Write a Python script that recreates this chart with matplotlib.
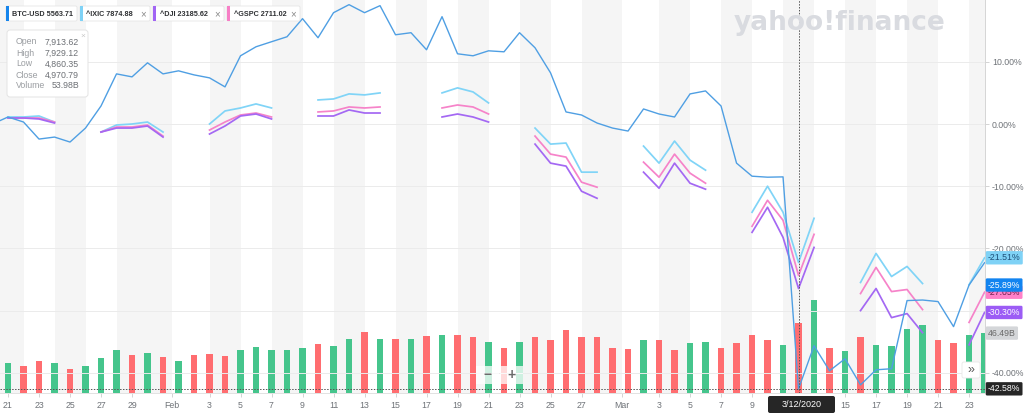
import matplotlib
matplotlib.use("Agg")
import matplotlib.pyplot as plt
import matplotlib.transforms as mtransforms
from matplotlib.patches import Rectangle, FancyBboxPatch
import numpy as np
import pandas as pd

plt.rcParams["font.family"] = ["Liberation Sans", "DejaVu Sans"]

# ---- data (percent change vs. first point, one value per calendar day) ----
dates = pd.date_range("2020-01-20", "2020-03-24", freq="D")

btc_pct = [
    0.0, 1.13, 0.32, -2.42, -2.10, -2.90, -0.65, 2.90, 8.06, 7.58, 9.84, 8.06,  # Jan 20-31
    8.55, 7.90, 7.42, 5.97, 10.97, 12.42, 13.23, 14.03, 16.94, 13.87, 17.90,
    19.19, 17.90, 19.03, 14.35, 14.68, 11.94, 17.26, 11.29, 10.97, 11.77,
    11.61, 14.68, 12.26, 8.23, 1.94, 1.45, 0.16, -0.65,  # Feb 1-29
    -1.13, 2.42, 1.61, 1.13, 4.84, 5.32, 2.90, -6.29, -8.39, -8.55, -8.50,
    -42.58, -35.65, -39.68, -37.74, -41.94, -39.52, -39.35, -28.39, -28.30,
    -28.55, -32.58, -25.89, -22.30,  # Mar 1-24
]

# BTC volume, billions of USD
btc_volume = [
    20.7, 23.2, 21.3, 24.7, 23.2, 18.5, 21.3, 27.3, 33.3, 29.6, 31.2, 28.1,
    24.7, 29.4, 30.2, 28.6, 33.5, 35.9, 33.3, 33.5, 34.6, 38.0, 36.1, 41.6,
    47.3, 41.6, 42.1, 41.6, 44.5, 45.2, 45.2, 43.1, 39.2, 34.9, 39.8, 43.7,
    41.1, 49.1, 43.7, 43.1, 35.1,
    34.3, 41.3, 41.1, 33.3, 38.5, 39.5, 35.1, 38.5, 45.2, 41.1, 36.9, 53.98,
    71.8, 35.1, 32.8, 43.7, 36.9, 36.7, 49.4, 52.8, 41.1, 39.0, 45.2, 46.49,
]

N = None  # market closed
ixic_pct = [
    N, 1.13, 1.13, 1.29, 0.32, N, N, -1.29, -0.16, 0.0, 0.32, -1.29,
    N, N, 0.0, 2.10, 2.58, 3.23, 2.58, N, N, 3.87, 4.03, 4.84, 4.68, 5.00,
    N, N, N, 5.00, 5.81, 5.16, 3.39, N, N, -0.65, -3.23, -3.06, -7.74, -7.74, N,
    N, -3.55, -6.29, -2.74, -5.81, -7.42, N, N, -14.19, -10.0, -14.19, -22.26,
    -15.16, N, N, -25.48, -20.81, -24.52, -22.90, -25.65, N, N, -25.85, -21.51,
]
gspc_pct = [
    N, 0.97, 0.97, 0.97, 0.32, N, N, -1.29, -0.48, -0.48, -0.16, -1.94,
    N, N, -0.97, 0.32, 1.45, 1.77, 1.13, N, N, 1.94, 2.10, 2.74, 2.58, 2.74,
    N, N, N, 2.58, 3.06, 2.74, 1.61, N, N, -1.94, -4.84, -5.32, -9.35, -10.16, N,
    N, -6.13, -8.55, -4.84, -7.90, -9.52, N, N, -16.45, -12.26, -15.48, -24.35,
    -17.74, N, N, -27.26, -23.06, -26.94, -26.61, -29.84, N, N, -31.90, -27.05,
]
dji_pct = [
    N, 0.97, 0.97, 0.81, 0.16, N, N, -1.29, -0.65, -0.65, -0.32, -2.10,
    N, N, -1.61, -0.32, 1.29, 1.61, 0.81, N, N, 1.29, 1.29, 2.26, 1.77, 1.77,
    N, N, N, 1.13, 1.61, 1.13, 0.32, N, N, -3.23, -6.29, -6.77, -10.81, -11.94, N,
    N, -7.74, -10.32, -6.29, -9.52, -10.48, N, N, -17.42, -13.39, -18.23, -26.45,
    -19.84, N, N, -30.00, -26.45, -31.13, -30.48, -33.55, N, N, -35.50, -30.30,
]

symbols = ["BTC-USD", "^IXIC", "^DJI", "^GSPC"]
symbol_prices = ["5563.71", "7874.88", "23185.62", "2711.02"]
last_pct = [-25.89, -21.51, -30.30, -27.05]
last_volume = 46.49

cursor_date = "2020-03-12"
cursor_pct = -42.58
info_names = ["Open", "High", "Low", "Close", "Volume"]
info_values = ["7,913.62", "7,929.12", "4,860.35", "4,970.79", "53.98B"]

# ---- style ----
line_colors = {"BTC-USD": "#4f9fe3", "^IXIC": "#80d4f7", "^DJI": "#a468f3", "^GSPC": "#f683c9"}
chip_colors = {"BTC-USD": "#1584ec", "^IXIC": "#7fd2f6", "^DJI": "#a165f4", "^GSPC": "#f77fc6"}
tag_style = {
    "BTC-USD": ("#1284f0", "white"),
    "^IXIC": ("#7fd2f6", "#1d4f78"),
    "^DJI": ("#9c5cf5", "white"),
    "^GSPC": ("#ff80c8", "#6a1f4a"),
}
up_color, down_color = "#45c58c", "#ff6d70"
stripe_color = "#f5f5f5"
grid_color = "#ebebeb"
text_gray = "#6f7378"

stripes = [
    ("2020-01-19", "2020-01-22"), ("2020-01-24", "2020-01-26"),
    ("2020-01-28", "2020-01-31 14:00"), ("2020-02-03", "2020-02-05"),
    ("2020-02-07", "2020-02-09"), ("2020-02-11", "2020-02-13"),
    ("2020-02-15", "2020-02-17"), ("2020-02-19", "2020-02-21"),
    ("2020-02-23", "2020-02-25"), ("2020-02-27", "2020-02-29 14:00"),
    ("2020-03-03", "2020-03-05"), ("2020-03-07", "2020-03-09"),
    ("2020-03-11", "2020-03-13"), ("2020-03-15", "2020-03-17"),
    ("2020-03-19", "2020-03-21"), ("2020-03-23", "2020-03-26"),
]

W, H = 1024, 416
fig = plt.figure(figsize=(W / 100, H / 100), dpi=100)
fig.patch.set_facecolor("white")
rect = [0, 23 / H, 985 / W, 393 / H]

x_left = pd.Timestamp("2020-01-21") - pd.Timedelta(hours=12.4)
x_right = pd.Timestamp("2020-03-24") + pd.Timedelta(hours=0.7)

# volume axes underneath
ax_vol = fig.add_axes(rect, zorder=0)
ax_vol.set_facecolor("white")
for start, end in stripes:
    ax_vol.axvspan(pd.Timestamp(start), pd.Timestamp(end), color=stripe_color, lw=0, zorder=0)
vol_colors = [up_color if i > 0 and btc_pct[i] >= btc_pct[i - 1] else down_color
              for i in range(len(btc_pct))]
ax_vol.bar(dates, btc_volume, width=0.42, color=vol_colors, zorder=2)
ax_vol.set_ylim(0, 305)
ax_vol.set_xlim(x_left, x_right)
ax_vol.axis("off")

# price axes on top
ax = fig.add_axes(rect, zorder=1)
ax.patch.set_alpha(0)
ax.set_xlim(x_left, x_right)
ax.set_ylim(-43.25, 19.94)

grid_levels = [10, 0, -10, -20, -30, -40]
for y in grid_levels:
    ax.axhline(y, color=grid_color, lw=0.7, zorder=0)

series = {"^IXIC": ixic_pct, "^GSPC": gspc_pct, "^DJI": dji_pct}
for name, vals in series.items():
    ax.plot(dates, np.array(vals, dtype=float), color=line_colors[name], lw=1.25, zorder=3)
ax.plot(dates, btc_pct, color=line_colors["BTC-USD"], lw=1.0, zorder=4)

# crosshair
cursor = pd.Timestamp(cursor_date)
ax.axvline(cursor, color="#555555", lw=0.7, ls=(0, (1.5, 1.5)), zorder=5)
ax.axhline(cursor_pct, color="#555555", lw=0.7, ls=(0, (1.5, 1.5)), zorder=5)

# axes decoration (the -30% label sits under the ^DJI tag, so it is left blank)
ax.yaxis.tick_right()
ax.set_yticks(grid_levels)
ax.set_yticklabels(["" if v == -30 else f"{v:.2f}%" for v in grid_levels])
ax.tick_params(axis="y", length=3, width=0.6, color="#cccccc", pad=2,
               labelsize=6.3, labelcolor=text_gray)

tick_pos, tick_lab = [], []
for d in dates:
    if abs((d - cursor).days) == 1:
        continue  # hidden behind the date tag
    if d.day == 1:
        tick_pos.append(d - pd.Timedelta(hours=10))
        tick_lab.append(d.strftime("%b"))
    elif d.day % 2 == 1 and (d + pd.Timedelta(days=2)).month == d.month and d > dates[0]:
        tick_pos.append(d)
        tick_lab.append(str(d.day))
ax.set_xticks(tick_pos)
ax.set_xticklabels(tick_lab)
ax.tick_params(axis="x", length=3, width=0.6, color="#cccccc", pad=3,
               labelsize=6.3, labelcolor=text_gray)
for side in ["top", "left"]:
    ax.spines[side].set_visible(False)
ax.spines["right"].set_color("#d5d5d5")
ax.spines["bottom"].set_color("#e2e2e2")
ax.spines["right"].set_linewidth(0.7)
ax.spines["bottom"].set_linewidth(0.7)

# value tags on the right edge
tag_tr = mtransforms.blended_transform_factory(ax.transAxes, ax.transData)
order = [("^GSPC", 3), ("BTC-USD", 0), ("^IXIC", 1), ("^DJI", 2)]
for name, i in order:
    bg, fg = tag_style[name]
    ax.text(1.003, last_pct[i], f"{last_pct[i]:.2f}%", transform=tag_tr, fontsize=6.3,
            color=fg, va="center", ha="left", clip_on=False, zorder=10,
            bbox=dict(boxstyle="round,pad=0.25,rounding_size=0.15", fc=bg, ec="none"))
ax.text(1.003, cursor_pct, f"{cursor_pct:.2f}%", transform=tag_tr, fontsize=6.3,
        color="white", va="center", ha="left", clip_on=False, zorder=10,
        bbox=dict(boxstyle="round,pad=0.25,rounding_size=0.15", fc="#262626", ec="none"))
vol_tr = mtransforms.blended_transform_factory(ax_vol.transAxes, ax_vol.transData)
ax_vol.text(1.003, last_volume, f"{last_volume:.2f}B", transform=vol_tr, fontsize=6.3,
            color="#6a6a6a", va="center", ha="left", clip_on=False, zorder=10,
            bbox=dict(boxstyle="round,pad=0.25,rounding_size=0.15", fc="#d4d6d9", ec="none"))

# ---- overlay in pixel coordinates: chips, info box, watermark, buttons ----
ov = fig.add_axes([0, 0, 1, 1], zorder=10)
ov.set_xlim(0, W)
ov.set_ylim(H, 0)
ov.axis("off")
ov.patch.set_alpha(0)

ov.text(840, 23, "yahoo!finance", fontsize=19, fontweight="bold", color="#d9dbe0",
        ha="center", va="center", family="DejaVu Sans")

chip_x = [(6, 77), (80, 150), (153, 224), (227, 300)]
for (x0, x1), name, price in zip(chip_x, symbols, symbol_prices):
    ov.add_patch(FancyBboxPatch((x0, 6), x1 - x0, 15, boxstyle="round,pad=0,rounding_size=1.5",
                                fc="white", ec="#e6e6e6", lw=0.6))
    ov.add_patch(Rectangle((x0, 6), 2.5, 15, fc=chip_colors[name], ec="none"))
    ov.text(x0 + 6.5, 14, f"{name} {price}", fontsize=5.2, fontweight="bold",
            color="#2f3134", va="center", ha="left")
    if name != "BTC-USD":
        ov.text(x1 - 6.5, 14, "\u00d7", fontsize=7, color="#8a8a8a", va="center", ha="center")

ov.add_patch(FancyBboxPatch((7, 30), 81, 67, boxstyle="round,pad=0,rounding_size=3",
                            fc="white", ec="#e3e3e3", lw=0.7))
ov.text(83, 36, "\u00d7", fontsize=6, color="#c8c8c8", ha="center", va="center")
for k, (nm, val) in enumerate(zip(info_names, info_values)):
    yy = 42 + 11 * k
    ov.text(16, yy, nm, fontsize=6.3, color="#9a9da1", va="center", ha="left")
    ov.text(79, yy, val, fontsize=6.3, color="#6d7075", va="center", ha="right")

# zoom buttons and scroll button
ov.add_patch(Rectangle((476, 366), 23, 18, fc="white", ec="none", alpha=0.75))
ov.add_patch(Rectangle((500, 366), 23, 18, fc="white", ec="none", alpha=0.75))
ov.text(487.5, 375, "\u2212", fontsize=10, fontweight="bold", color="#6b6b6b", ha="center", va="center")
ov.text(511.5, 375, "+", fontsize=10, fontweight="bold", color="#6b6b6b", ha="center", va="center")
ov.add_patch(FancyBboxPatch((962, 362), 18, 16, boxstyle="round,pad=0,rounding_size=2",
                            fc="white", ec="#e8e8e8", lw=0.6))
ov.text(971, 369.5, "\u00bb", fontsize=9, color="#555555", ha="center", va="center")

# date tag under the crosshair
ov.add_patch(FancyBboxPatch((768, 396), 67, 17, boxstyle="round,pad=0,rounding_size=2",
                            fc="#262626", ec="none"))
ov.text(801.5, 404.5, pd.Timestamp(cursor_date).strftime("%-m/%-d/%Y"), fontsize=6.5,
        color="white", ha="center", va="center")

fig.savefig("out.png", dpi=100, facecolor="white")
